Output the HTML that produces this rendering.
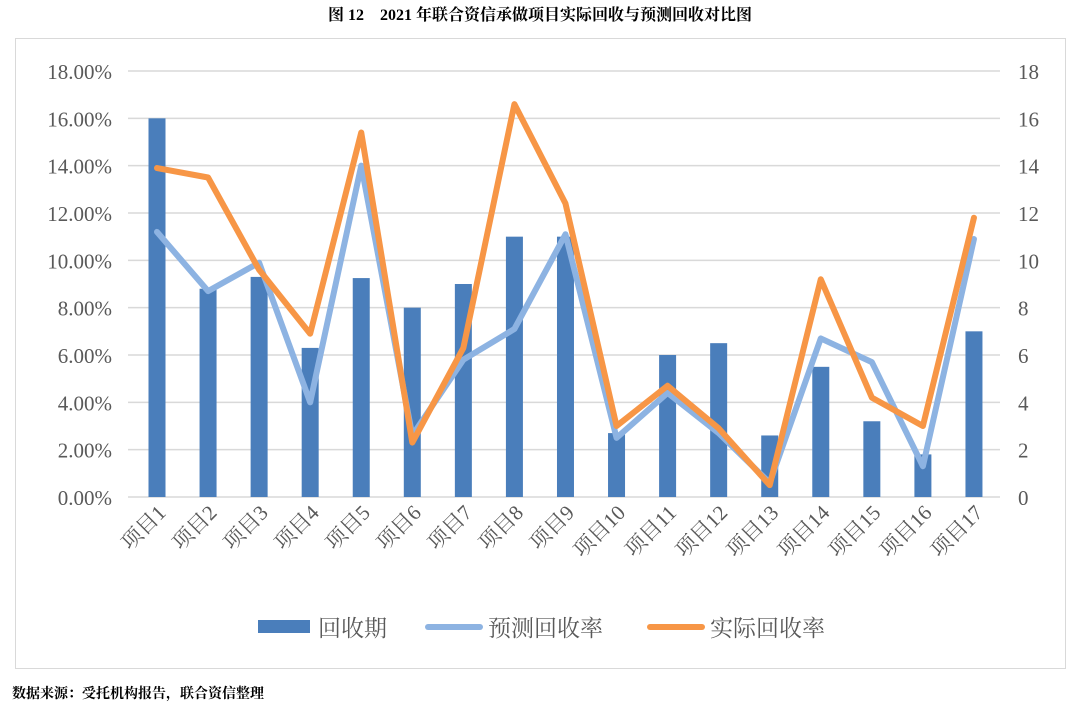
<!DOCTYPE html>
<html><head><meta charset="utf-8"><style>
body{margin:0;background:#fff;width:1080px;height:707px;overflow:hidden;font-family:"Liberation Serif","Noto Serif CJK SC",serif;}
</style></head><body>
<svg id="s" width="1080" height="707" xmlns="http://www.w3.org/2000/svg">
<text x="540" y="20" text-anchor="middle" font-size="16" font-weight="bold" font-family="Liberation Serif,Noto Serif CJK SC,serif">图 12　2021 年联合资信承做项目实际回收与预测回收对比图</text>
<rect x="15.5" y="38.5" width="1050" height="630" fill="none" stroke="#d9d9d9" stroke-width="1"/>
<g id="g"></g>
<text x="12" y="698" font-size="14" font-weight="bold" font-family="Noto Serif CJK SC,serif">数据来源：受托机构报告，联合资信整理</text>
</svg>
<script>
var g=document.getElementById('g'),h='';
function Y(v){return 497-v*23.667}
function X(i){return 157+i*51.06}
for(var k=0;k<=9;k++){var y=Y(k*2);
h+='<line x1="128" x2="1000" y1="'+y+'" y2="'+y+'" stroke="#d9d9d9" stroke-width="1.5"/>';
h+='<text x="112" y="'+(y+8)+'" text-anchor="end" font-size="21" fill="#595959">'+(k*2).toFixed(2)+'%</text>';
h+='<text x="1018" y="'+(y+8)+'" font-size="21" fill="#595959">'+(k*2)+'</text>';}
var bars=[16,8.8,9.3,6.3,9.25,8.0,9.0,11.0,11.0,2.7,6.0,6.5,2.6,5.5,3.2,1.8,7.0];
var bl=[11.2,8.7,9.9,4.0,14.0,2.6,5.8,7.1,11.1,2.5,4.4,2.7,0.6,6.7,5.7,1.3,10.9];
var or=[13.9,13.5,9.6,6.9,15.4,2.3,6.3,16.6,12.4,3.0,4.7,2.9,0.5,9.2,4.2,3.0,11.8];
for(var i=0;i<17;i++){var x=X(i);
h+='<rect x="'+(x-8.5)+'" y="'+Y(bars[i])+'" width="17" height="'+(bars[i]*23.667)+'" fill="#4a7ebb"/>';
h+='<text transform="translate('+(x+10)+',514) rotate(-45)" text-anchor="end" font-size="21" fill="#595959" font-family="Liberation Serif,Noto Serif CJK SC,serif">项目'+(i+1)+'</text>';}
function pl(a,c){var p=a.map(function(v,i){return X(i)+','+Y(v)}).join(' ');
return '<polyline points="'+p+'" fill="none" stroke="'+c+'" stroke-width="6" stroke-linejoin="round" stroke-linecap="round"/>';}
h+=pl(bl,'#8db3e2');h+=pl(or,'#f79646');
h+='<rect x="258" y="620" width="52" height="13" fill="#4a7ebb"/><text x="318" y="636" font-size="23" fill="#595959" font-family="Liberation Serif,Noto Serif CJK SC,serif">回收期</text>';
h+='<line x1="428" x2="480" y1="627" y2="627" stroke="#8db3e2" stroke-width="6" stroke-linecap="round"/><text x="488" y="636" font-size="23" fill="#595959" font-family="Liberation Serif,Noto Serif CJK SC,serif">预测回收率</text>';
h+='<line x1="650" x2="702" y1="627" y2="627" stroke="#f79646" stroke-width="6" stroke-linecap="round"/><text x="710" y="636" font-size="23" fill="#595959" font-family="Liberation Serif,Noto Serif CJK SC,serif">实际回收率</text>';
g.innerHTML=h;
</script>
</body></html>
